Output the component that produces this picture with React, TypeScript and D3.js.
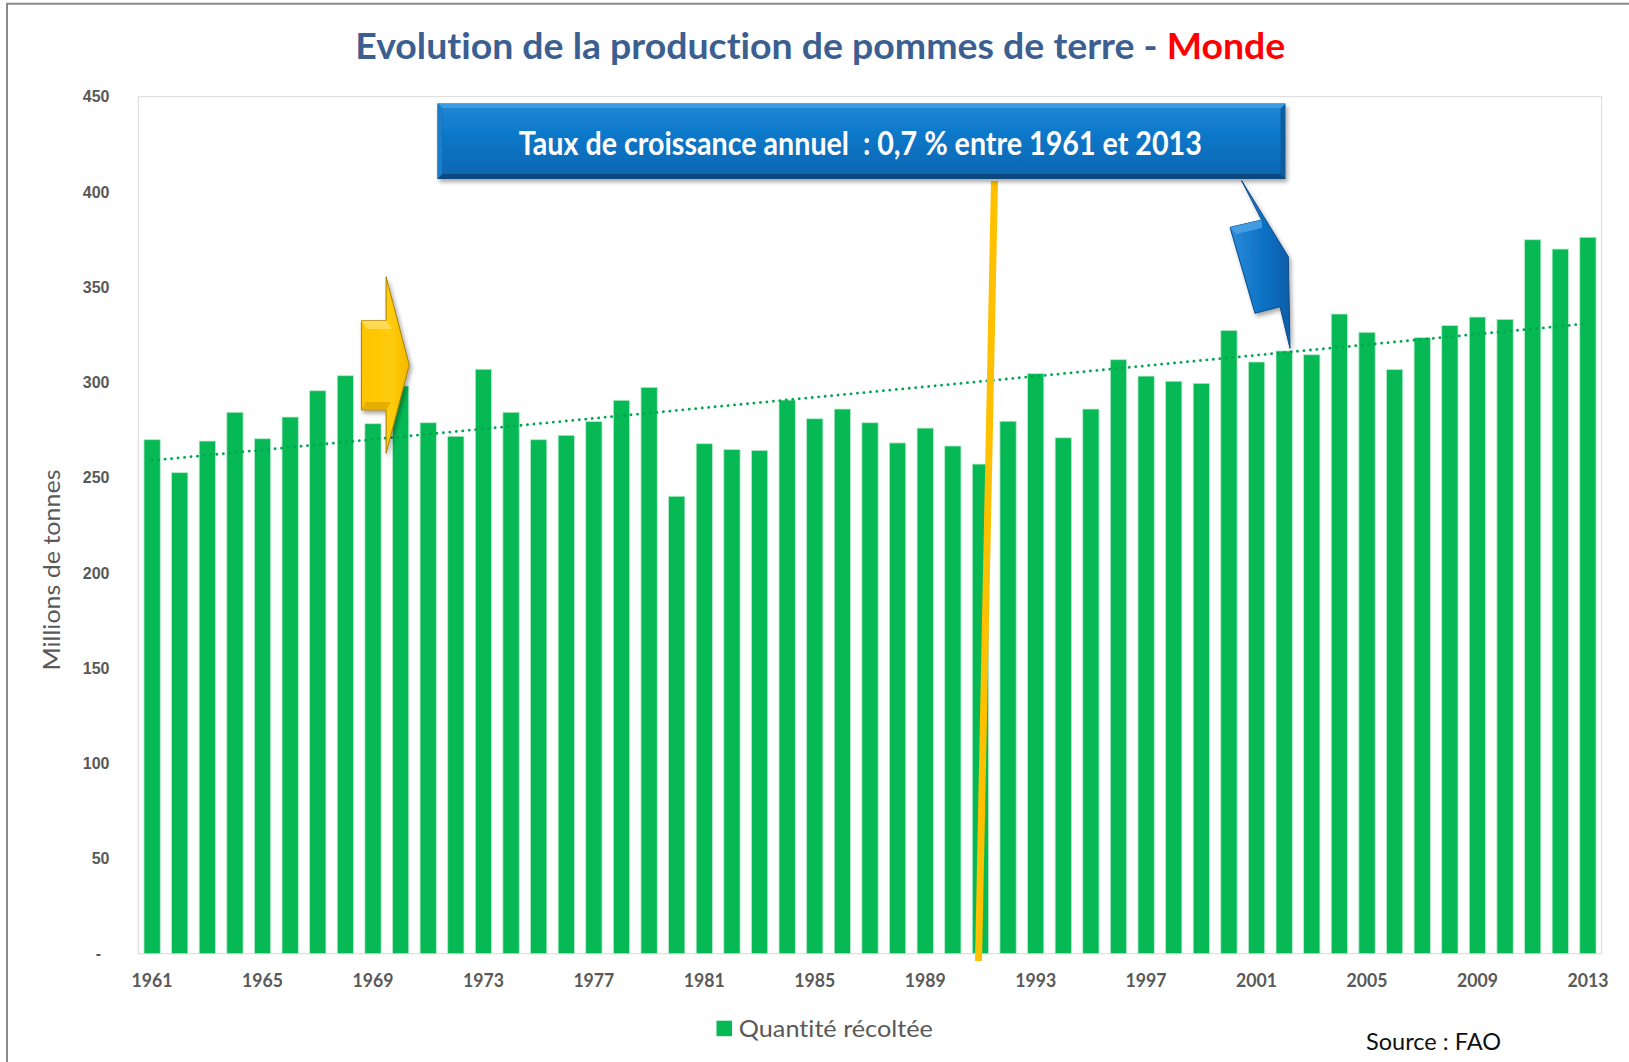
import React from "react";
import * as d3 from "d3";

// ---------- DATA ----------
const years: number[] = d3.range(1961, 2014);
const production: number[] = [
  269.9, 252.6, 269.2, 284.3, 270.4, 281.8, 295.6, 303.5, 278.3, 298.1,
  278.8, 271.7, 306.9, 284.3, 269.9, 272.2, 279.4, 290.6, 297.4, 240.2,
  267.8, 264.8, 264.3, 290.7, 280.9, 286.0, 278.8, 268.2, 276.0, 266.6,
  257.1, 279.6, 304.6, 270.9, 286.0, 311.9, 303.3, 300.6, 299.5, 327.3,
  310.7, 316.5, 314.5, 335.9, 326.3, 306.7, 323.5, 329.8, 334.3, 333.1,
  374.9, 370.0, 376.2,
];
const yTicks: number[] = [0, 50, 100, 150, 200, 250, 300, 350, 400, 450];
const yTickLabels: string[] = ["-", "50", "100", "150", "200", "250", "300", "350", "400", "450"];
const xTickYears: number[] = [1961, 1965, 1969, 1973, 1977, 1981, 1985, 1989, 1993, 1997, 2001, 2005, 2009, 2013];

const titleMain = "Evolution de la production de pommes de terre - ";
const titleAccent = "Monde";
const boxText = "Taux de croissance annuel  : 0,7 % entre 1961 et 2013";
const yAxisTitle = "Millions de tonnes";
const legendLabel = "Quantité récoltée";
const sourceText = "Source : FAO";

// ---------- LAYOUT ----------
const W = 1629;
const H = 1062;
const plot = { left: 138.3, right: 1601.7, top: 96.7, bottom: 953.7 };
const FONT = "Lato, 'Open Sans', 'Noto Sans', sans-serif";
const GREEN = "#06B954";
const GRAY = "#595959";

export default function App() {
  const x = d3
    .scaleBand<string>()
    .domain(years.map(String))
    .range([plot.left, plot.right])
    .paddingInner(0.41)
    .paddingOuter(0.205);
  const y = d3.scaleLinear().domain([0, 450]).range([plot.bottom, plot.top]);
  const xc = (yr: number) => (x(String(yr)) as number) + x.bandwidth() / 2;

  // linear trend (least squares) computed from data
  const n = production.length;
  const idx = d3.range(n);
  const mx = d3.mean(idx) as number;
  const my = d3.mean(production) as number;
  const slope =
    d3.sum(idx.map((i) => (i - mx) * (production[i] - my))) /
    d3.sum(idx.map((i) => (i - mx) * (i - mx)));
  const icpt = my - slope * mx;
  const trendLine = d3
    .line<number>()
    .x((i) => xc(years[i]))
    .y((i) => y(icpt + slope * i));

  // annotation shapes
  const yellowArrow: [number, number][] = [
    [361.4, 320.7], [386.1, 320.7], [386.1, 276.7], [409.3, 365],
    [386.1, 453.3], [386.1, 410], [361.4, 410],
  ];
  const blueArrow: [number, number][] = [
    [1241.7, 180.7], [1288.3, 256.7], [1290, 348.3], [1280, 306.7],
    [1255, 313.3], [1230, 227.3], [1261.7, 220],
  ];
  const poly = (pts: [number, number][]) => pts.map((p) => p.join(",")).join(" ");

  const box = { x: 437.5, y: 103.5, w: 848, h: 75.5 };
  const bev = 5;

  return (
    <svg
      width={W}
      height={H}
      viewBox={`0 0 ${W} ${H}`}
      style={{ position: "absolute", left: 0, top: 0, background: "#fff", fontVariantLigatures: "none" }}
      fontFamily={FONT}
    >
      <defs>
        <linearGradient id="boxGrad" x1="0" y1="0" x2="0" y2="1">
          <stop offset="0" stopColor="#1C86D6" />
          <stop offset="0.5" stopColor="#0A74C5" />
          <stop offset="1" stopColor="#0868B4" />
        </linearGradient>
        <linearGradient id="yelGrad" x1="0" y1="0" x2="1" y2="0">
          <stop offset="0" stopColor="#FFC400" />
          <stop offset="0.6" stopColor="#FFCC0A" />
          <stop offset="1" stopColor="#F5B800" />
        </linearGradient>
        <linearGradient id="blueGrad" x1="0" y1="0" x2="1" y2="0">
          <stop offset="0" stopColor="#2A8BDA" />
          <stop offset="0.6" stopColor="#0B6FC2" />
          <stop offset="1" stopColor="#0A5EA8" />
        </linearGradient>
        <filter id="shadow" x="-20%" y="-20%" width="140%" height="140%">
          <feDropShadow dx="2" dy="3" stdDeviation="2" floodColor="#000" floodOpacity="0.35" />
        </filter>
      </defs>

      <rect x={0} y={0} width={W} height={H} fill="#fff" />
      {/* outer frame */}
      <line x1={6} x2={W} y1={3.7} y2={3.7} stroke="#8A8A8A" strokeWidth={2} />
      <line x1={7} x2={7} y1={3} y2={H} stroke="#8A8A8A" strokeWidth={2} />

      {/* title */}
      <text
        x={355.3}
        y={59}
        fontSize={37}
        fontWeight={700}
        textLength={930}
        lengthAdjust="spacingAndGlyphs"
      >
        <tspan fill="#3B5F91">{titleMain}</tspan>
        <tspan fill="#FF0000">{titleAccent}</tspan>
      </text>

      {/* plot area */}
      <rect
        x={plot.left}
        y={plot.top}
        width={plot.right - plot.left}
        height={plot.bottom - plot.top}
        fill="#fff"
        stroke="#D9D9D9"
        strokeWidth={1}
      />

      {/* y ticks labels */}
      {yTicks.map((t, i) => (
        <text
          key={t}
          x={t === 0 ? 101 : 109.5}
          y={y(t)}
          dy="0.36em"
          textAnchor="end"
          fontSize={16}
          fontWeight={700}
          fill={GRAY}
          fontFamily="'Liberation Sans', Arial, sans-serif"
        >
          {yTickLabels[i]}
        </text>
      ))}

      {/* y axis title */}
      <text
        transform={`translate(60,570) rotate(-90)`}
        textAnchor="middle"
        fontSize={23}
        fill={GRAY}
        textLength={201}
        lengthAdjust="spacingAndGlyphs"
      >
        {yAxisTitle}
      </text>

      {/* bars */}
      {production.map((v, i) => (
        <rect
          key={years[i]}
          x={x(String(years[i]))}
          y={y(v)}
          width={x.bandwidth()}
          height={y(0) - y(v)}
          fill={GREEN}
          stroke="#B8ECCD"
          strokeWidth={0.8}
        />
      ))}

      {/* x labels */}
      {xTickYears.map((yr) => (
        <text
          key={yr}
          x={xc(yr)}
          y={986.7}
          textAnchor="middle"
          fontSize={19}
          fontWeight={700}
          fill={GRAY}
          textLength={41}
          lengthAdjust="spacingAndGlyphs"
        >
          {yr}
        </text>
      ))}

      {/* trend line */}
      <path
        d={trendLine([0, n - 1]) as string}
        fill="none"
        stroke="#00A650"
        strokeWidth={2.8}
        strokeDasharray="0.1 6.4"
        strokeLinecap="round"
      />

      {/* yellow vertical line */}
      <line x1={994.5} y1={181} x2={978.5} y2={961} stroke="#FFC000" strokeWidth={7} />

      {/* yellow arrow */}
      <g filter="url(#shadow)">
        <polygon points={poly(yellowArrow)} fill="url(#yelGrad)" stroke="#A77C00" strokeWidth={1} />
        <polygon
          points={poly([[361.4, 320.7], [386.1, 320.7], [392, 329], [367, 329]])}
          fill="#FFDC5C"
          opacity={0.9}
        />
        <polygon
          points={poly([[361.4, 410], [386.1, 410], [391, 402], [366, 402]])}
          fill="#E0A800"
          opacity={0.8}
        />
      </g>

      {/* blue arrow */}
      <g filter="url(#shadow)">
        <polygon points={poly(blueArrow)} fill="url(#blueGrad)" stroke="#0A4A86" strokeWidth={1} />
        <polygon
          points={poly([[1230, 227.3], [1261.7, 220], [1262, 228], [1236, 234]])}
          fill="#4AA3E6"
          opacity={0.85}
        />
      </g>

      {/* text box */}
      <g filter="url(#shadow)">
        <rect x={box.x} y={box.y} width={box.w} height={box.h} fill="#0A5C9E" />
        <polygon
          points={poly([
            [box.x, box.y],
            [box.x + box.w, box.y],
            [box.x + box.w - bev, box.y + bev],
            [box.x + bev, box.y + bev],
          ])}
          fill="#3C9BE3"
        />
        <polygon
          points={poly([
            [box.x, box.y],
            [box.x + bev, box.y + bev],
            [box.x + bev, box.y + box.h - bev],
            [box.x, box.y + box.h],
          ])}
          fill="#1B7DCB"
        />
        <polygon
          points={poly([
            [box.x, box.y + box.h],
            [box.x + bev, box.y + box.h - bev],
            [box.x + box.w - bev, box.y + box.h - bev],
            [box.x + box.w, box.y + box.h],
          ])}
          fill="#07497F"
        />
        <rect
          x={box.x + bev}
          y={box.y + bev}
          width={box.w - 2 * bev}
          height={box.h - 2 * bev}
          fill="url(#boxGrad)"
        />
      </g>
      <text
        x={860.3}
        y={155}
        textAnchor="middle"
        fontSize={32}
        fontWeight={700}
        fill="#fff"
        textLength={683}
        lengthAdjust="spacingAndGlyphs"
        style={{ whiteSpace: "pre" }}
      >
        {boxText}
      </text>

      {/* legend */}
      <rect x={716.5} y={1020.7} width={15.5} height={15.5} fill={GREEN} />
      <text
        x={738.8}
        y={1036.5}
        fontSize={23}
        fill={GRAY}
        textLength={194}
        lengthAdjust="spacingAndGlyphs"
      >
        {legendLabel}
      </text>

      {/* source */}
      <text
        x={1366}
        y={1050}
        fontSize={23}
        fill="#111"
        textLength={135}
        lengthAdjust="spacingAndGlyphs"
      >
        {sourceText}
      </text>
    </svg>
  );
}
